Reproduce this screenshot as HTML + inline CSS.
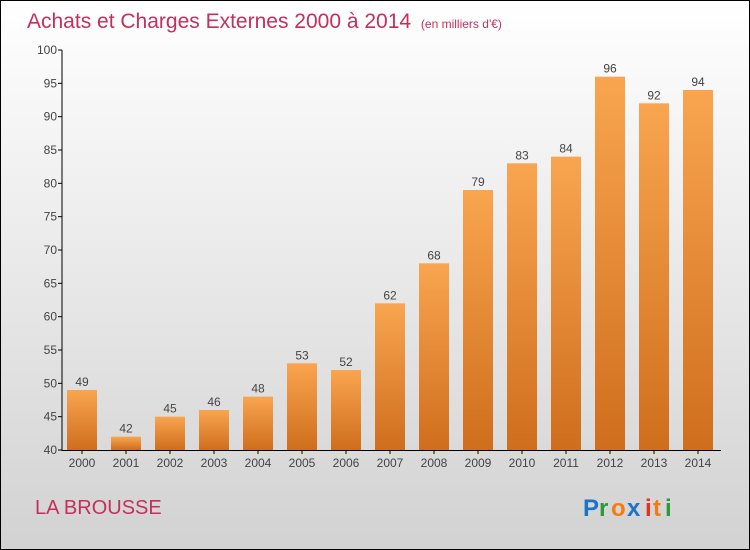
<!DOCTYPE html>
<html><head><meta charset="utf-8"><style>
body{margin:0;}
#c{width:748px;height:548px;border:1px solid #000;background:linear-gradient(#ffffff,#d2d2d2);position:relative;font-family:"Liberation Sans",sans-serif;overflow:hidden}
</style></head><body>
<div id="c">
<svg id="s" width="748" height="548">
<defs><linearGradient id="bg" x1="0" y1="0" x2="0" y2="1"><stop offset="0" stop-color="#f9a550"/><stop offset="1" stop-color="#cf6e1c"/></linearGradient></defs>
<text x="26" y="27" font-size="21" fill="#c4305c">Achats et Charges Externes 2000 à 2014 <tspan font-size="12" dx="4">(en milliers d'€)</tspan></text>
<text x="34" y="513" font-size="20" fill="#c4305c">LA BROUSSE</text>
<g font-size="24" font-weight="bold"><text x="582" y="515" fill="#1a74c8">P</text><text x="598" y="515" fill="#2a9a3a">r</text><text x="610" y="515" fill="#f47b10">o</text><text x="626" y="515" fill="#1a74c8">x</text><text x="644" y="515" fill="#e83020">i</text><text x="652" y="515" fill="#f47b10">t</text><text x="664" y="515" fill="#2a9a3a">i</text></g>
<g id="plot"></g>
</svg></div>
<script>
const years=["2000","2001","2002","2003","2004","2005","2006","2007","2008","2009","2010","2011","2012","2013","2014"];
const values=[49,42,45,46,48,53,52,62,68,79,83,84,96,92,94];
const yTicks=[40,45,50,55,60,65,70,75,80,85,90,95,100];
const ns="http://www.w3.org/2000/svg",g=document.getElementById('plot');
const y=v=>449-(v-40)*(400/60), x=i=>81+i*44;
function mk(t,a){const e=document.createElementNS(ns,t);for(const k in a)e.setAttribute(k,a[k]);g.appendChild(e);return e;}
yTicks.forEach(v=>{
 const l=mk('line',{x1:57,x2:61,y1:y(v),y2:y(v),stroke:'#000'});
 
 
 const t=mk('text',{x:56,y:y(v)+4,'font-size':12,'text-anchor':'end',fill:'#444'});t.textContent=v;
 
 
});
values.forEach((v,i)=>{
 const r=mk('rect',{x:x(i)-15,y:y(v),width:30,height:y(40)-y(v),fill:'url(#bg)'});
 
 
 const t=mk('text',{x:x(i),y:y(v)-4,'font-size':12,'text-anchor':'middle',fill:'#444'});t.textContent=v;
 
 
 const k=mk('line',{x1:x(i),x2:x(i),y1:449,y2:453,stroke:'#000'});
 
 
 const xl=mk('text',{x:x(i),y:466,'font-size':12,'text-anchor':'middle',fill:'#444'});xl.textContent=years[i];
 
 
});
const ya=mk('line',{x1:61,x2:61,y1:y(100),y2:450,stroke:'#000'});


const xa=mk('line',{x1:61,x2:720,y1:449.5,y2:449.5,stroke:'#000'});


</script>
</body></html>
